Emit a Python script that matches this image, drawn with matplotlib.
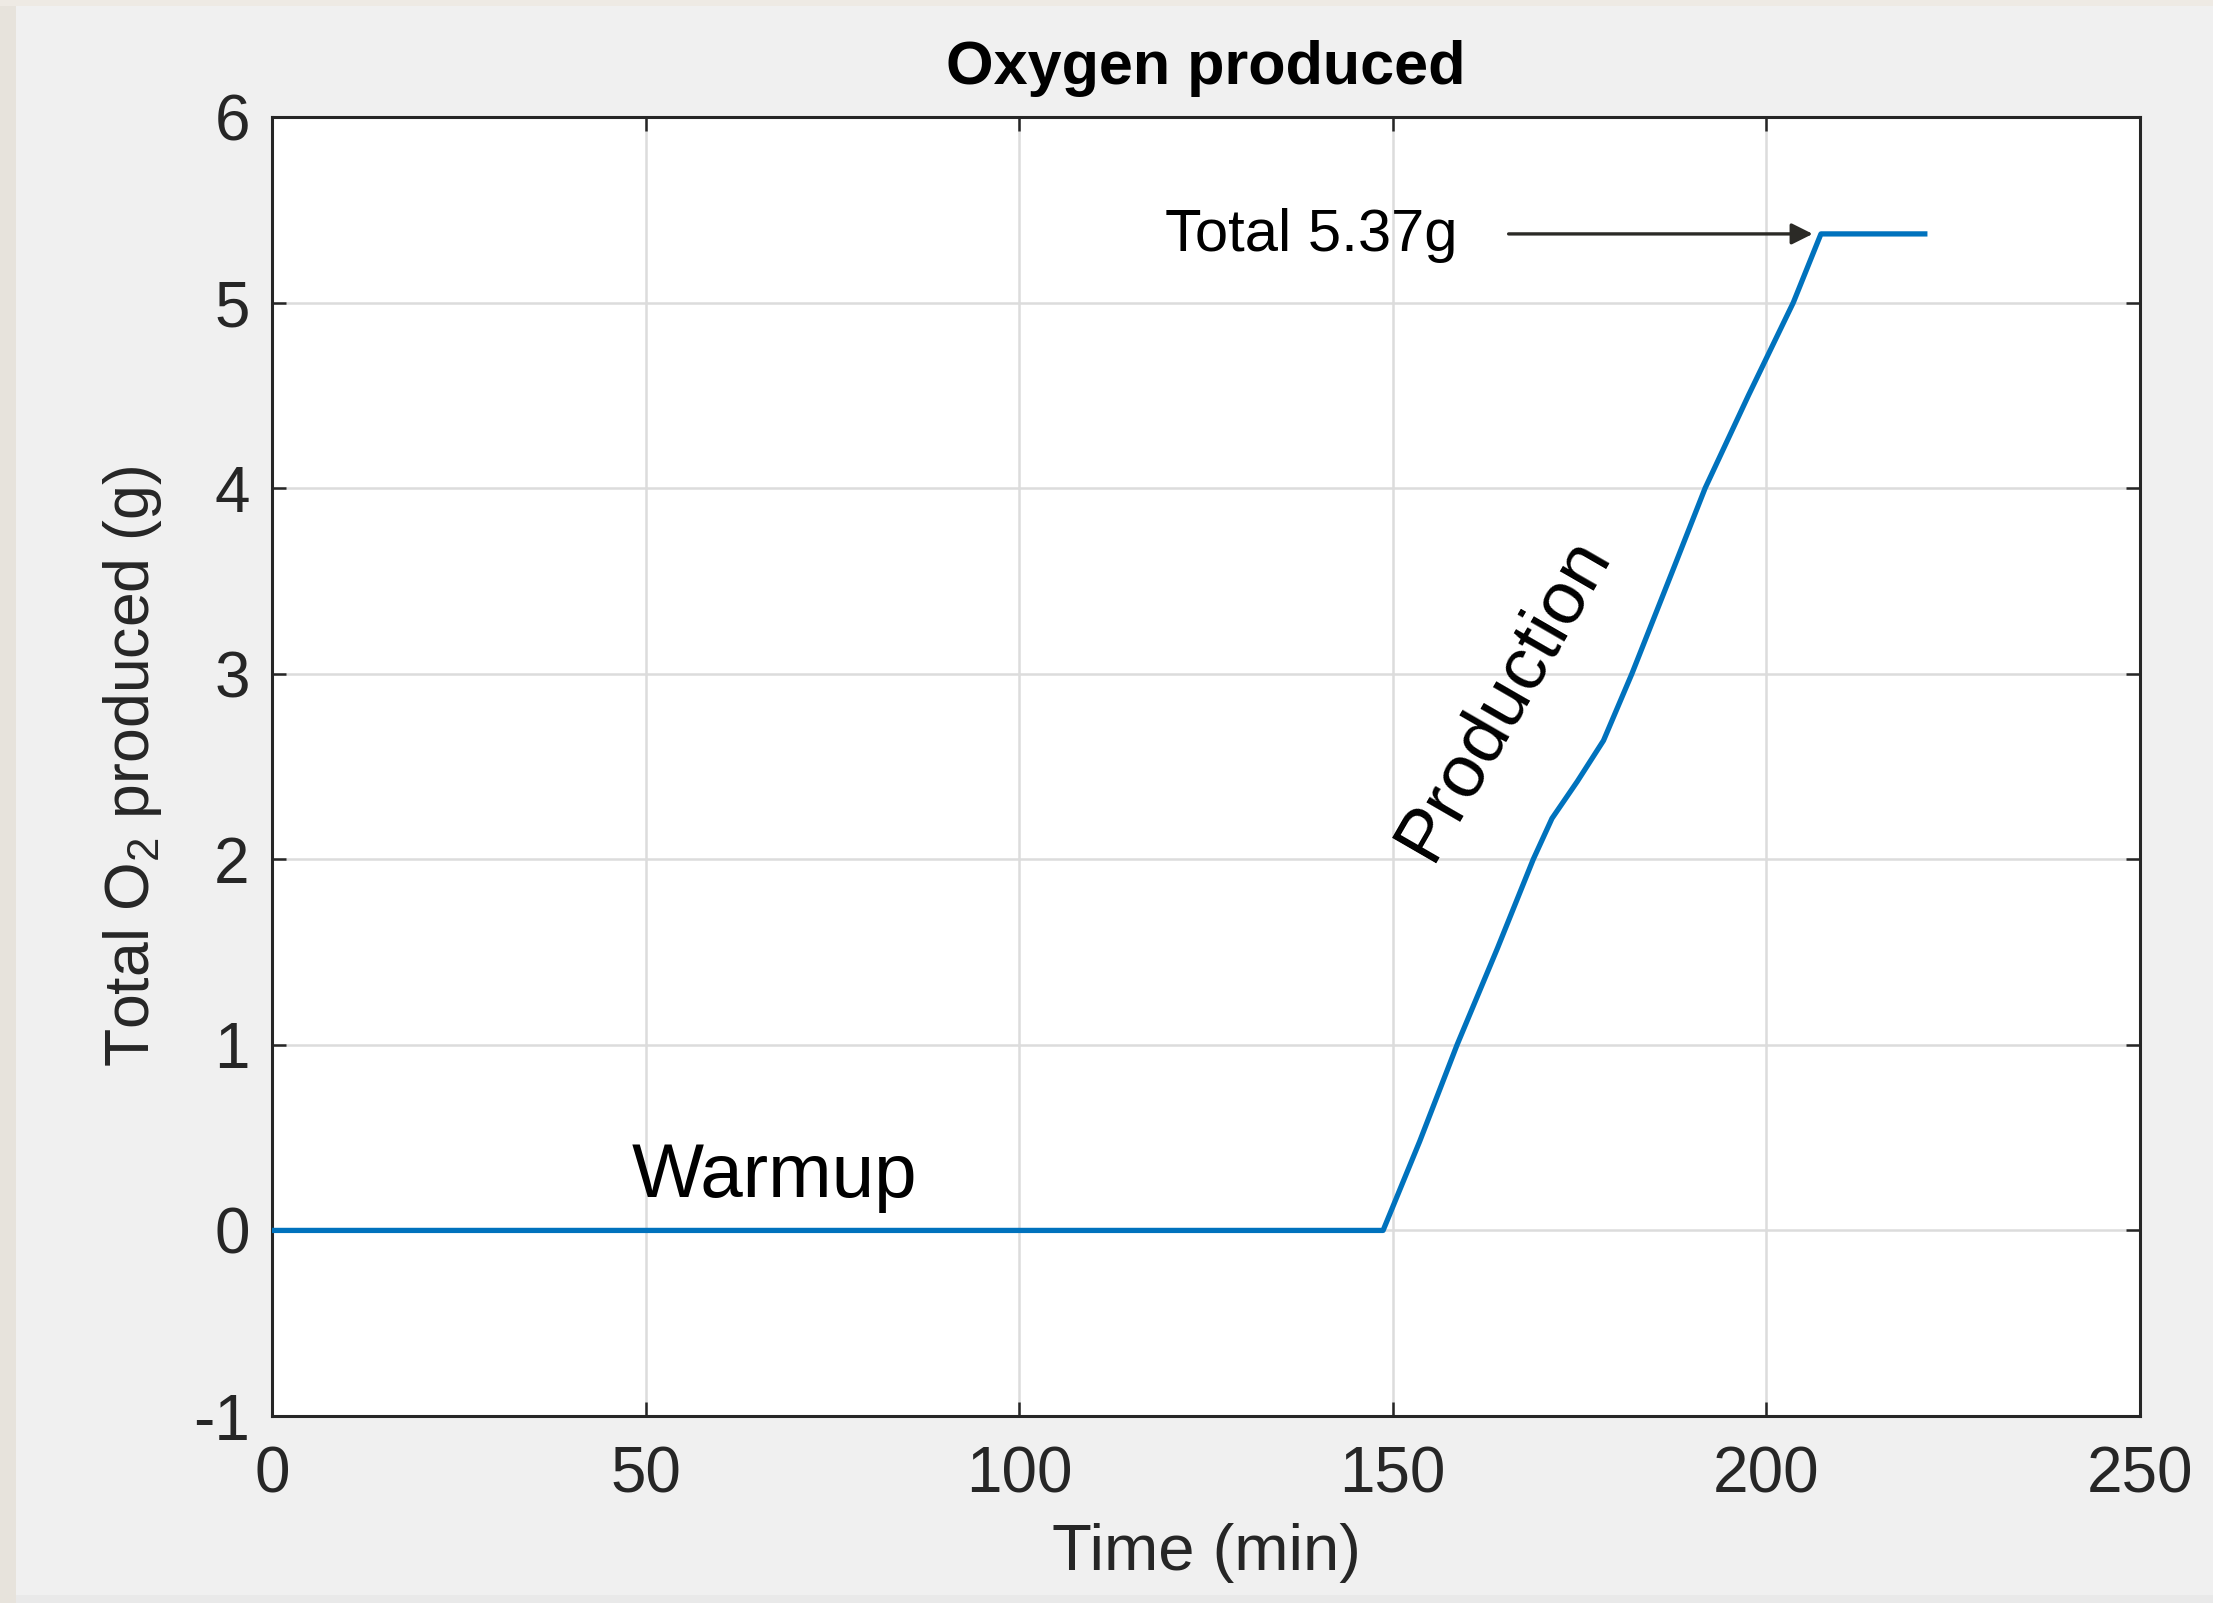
import numpy as np
import matplotlib
matplotlib.use("Agg")
import matplotlib.pyplot as plt
from matplotlib.patches import Rectangle

plt.rcParams['font.family'] = ['Liberation Sans', 'DejaVu Sans']
plt.rcParams['mathtext.fontset'] = 'custom'
plt.rcParams['mathtext.rm'] = 'Liberation Sans'
plt.rcParams['axes.unicode_minus'] = False

# readings from the picture (time in minutes, cumulative oxygen in grams)
time_min = [0, 148.7, 153.6, 158.6, 164.0, 168.8, 171.3, 174.7, 178.2,
            182.0, 187.6, 191.8, 197.6, 203.6, 207.3, 221.2]
o2_g = [0, 0, 0.48, 1.0, 1.52, 2.0, 2.22, 2.42, 2.64,
        3.0, 3.57, 4.0, 4.5, 5.0, 5.37, 5.37]

x_ticks = [0, 50, 100, 150, 200, 250]
y_ticks = [-1, 0, 1, 2, 3, 4, 5, 6]
total_label = "Total 5.37g"
total_value = 5.37

txt = '#262626'
fig = plt.figure(figsize=(22.13, 16.03), dpi=100, facecolor='#f0f0f0')

# paper-coloured strips at the edge of the screenshot
fig.patches.append(Rectangle((0, 0), 16 / 2213, 1, transform=fig.transFigure,
                             facecolor='#e7e3dc', edgecolor='none', zorder=0))
fig.patches.append(Rectangle((0, 1 - 6 / 1603), 1, 6 / 1603, transform=fig.transFigure,
                             facecolor='#eeeae4', edgecolor='none', zorder=0))
fig.patches.append(Rectangle((16 / 2213, 0), 1, 8 / 1603, transform=fig.transFigure,
                             facecolor='#e9e9e9', edgecolor='none', zorder=0))

ax = fig.add_axes([272 / 2213, 1 - 1416 / 1603, 1868 / 2213, 1299 / 1603])
ax.set_facecolor('white')

ax.plot(time_min, o2_g, color='#0072BD', lw=3.8, solid_joinstyle='round', zorder=3)

ax.set_xlim(0, 250)
ax.set_ylim(-1, 6)
ax.set_xticks(x_ticks)
ax.set_yticks(y_ticks)
ax.grid(True, color='#dcdcdc', lw=1.8)
ax.set_axisbelow(True)

for s in ax.spines.values():
    s.set_color('#262626')
    s.set_linewidth(2.2)
ax.tick_params(direction='in', length=10, width=1.8, color='#262626',
               top=True, right=True, labelsize=46, labelcolor=txt)
ax.tick_params(axis='x', pad=21)
ax.tick_params(axis='y', pad=16)

ax.set_title("Oxygen produced", fontsize=44, fontweight='bold', color='black', pad=24)
ax.set_xlabel("Time (min)", fontsize=47, color=txt)
ax.set_ylabel(r"Total O$_\mathrm{2}$ produced (g)", fontsize=45, color=txt)
ax.xaxis.set_label_coords(0.5, -0.082)
ax.yaxis.set_label_coords(-0.058, 0.5)

# annotations
ax.text(67.2, 0.18, "Warmup", fontsize=55, ha='center', va='baseline', color='black')
ax.text(164.8, 2.87, "Production", fontsize=54, ha='center', va='center',
        rotation=60, color='black')
ax.text(139.1, 5.28, total_label, fontsize=43, ha='center', va='baseline', color='black')
ax.annotate('', xy=(206.2, total_value), xytext=(165.5, total_value),
            arrowprops=dict(arrowstyle='-|>', color='#2b2a26', lw=2.4,
                            mutation_scale=32, shrinkA=0, shrinkB=0))

fig.savefig('out.png', dpi=100, facecolor=fig.get_facecolor())
